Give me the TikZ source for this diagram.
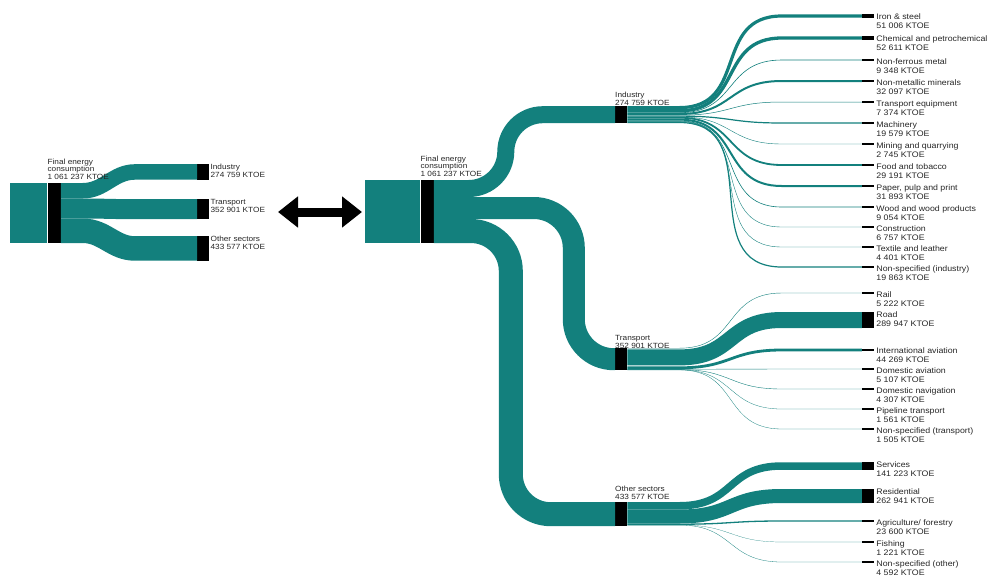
\documentclass[tikz,border=0pt]{standalone}
\usepackage{fontspec}
\setmainfont{Liberation Sans}[FakeStretch=1.1]
\usepackage{tikz}
\usetikzlibrary{arrows.meta,positioning}
\definecolor{flowteal}{RGB}{19,128,125}
\tikzset{
	% Bars at the ends of the flows, and the flows themselves
	bar node/.style={rectangle,fill=black,inner sep=0pt,minimum width=12pt},
	teal node/.style={rectangle,fill=flowteal,inner sep=0pt},
	band/.style={draw=flowteal,line cap=butt},
	tag/.style={font=\fontsize{8}{9}\selectfont,align=left,inner sep=0pt,text=black!85},
	small tag/.style={font=\fontsize{7.5}{7.8}\selectfont,align=left,inner sep=0pt,text=black!85}
}

\begin{document}
\begin{tikzpicture}[x=1pt,y=-1pt]
			% macro for the label of a sector
			\newcommand{\sectorlabel}[3][south west]{\node[small tag,anchor=#1]at(#2){#3};}
			\useasboundingbox (0,0) rectangle (988,579);
			
			% Left: total consumption split into three sectors
			\node(L-src)[teal node,minimum width=37pt,minimum height=60pt,anchor=north west] at (10,183){};
			\node(L-0)[bar node,minimum width=13pt,minimum height=60pt,right=0pt of L-src]{};
			\node(L-1)[bar node,minimum height=15.5pt,anchor=north west] at (197,164){};
			\node(L-2)[bar node,minimum height=20pt,anchor=north west] at (197,199){};
			\node(L-3)[bar node,minimum height=24.5pt,anchor=north west] at (197,236){};
			\draw[band,line width=15.5pt] ([yshift=-7.75pt]L-0.north east) -- ++(22,0) to[out=0,in=180] ([xshift=-62pt]L-1.west) -- (L-1.west);
			\draw[band,line width=20pt] ([yshift=-25.5pt]L-0.north east) -- ++(22,0) to[out=0,in=180] ([xshift=-62pt]L-2.west) -- (L-2.west);
			\draw[band,line width=24.5pt] ([yshift=-47.75pt]L-0.north east) -- ++(22,0) to[out=0,in=180] ([xshift=-62pt]L-3.west) -- (L-3.west);
			
			\sectorlabel{[yshift=3pt]L-0.north west}{Final energy\\consumption\\1 061 237 KTOE}
			\sectorlabel[north west]{[xshift=1pt]L-1.north east}{Industry\\274 759 KTOE}
			\sectorlabel[north west]{[xshift=1pt]L-2.north east}{Transport\\352 901 KTOE}
			\sectorlabel[north west]{[xshift=1pt]L-3.north east}{Other sectors\\433 577 KTOE}
			
			% double arrow between the two pictures
			\coordinate(swap-L) at (278,212);
			\coordinate(swap-R) at (362,212);
			\draw[line width=9pt,{Triangle[length=20pt,width=30pt]}-{Triangle[length=20pt,width=30pt]}] (swap-L) -- (swap-R);
			
			% Middle: the same total, split again
			\node(0-src)[teal node,minimum width=55pt,minimum height=63pt,anchor=north west] at (365,180){};
			\node(0)[bar node,minimum width=13pt,minimum height=63pt,right=0pt of 0-src]{};
			\node(1)[bar node,minimum height=17pt,anchor=north west] at (615,106){};
			\node(2)[bar node,minimum height=22pt,anchor=north west] at (615,348){};
			\node(3)[bar node,minimum height=24pt,anchor=north west] at (615,502){};
			\draw[band,line width=17pt,rounded corners=37pt] ([yshift=-8.5pt]0.north east) -- ++(72,0) |- (1.west);
			\draw[band,line width=22pt,rounded corners=40pt] ([yshift=-28pt]0.north east) -- ++(140,0) |- (2.west);
			\draw[band,line width=24pt,rounded corners=40pt] ([yshift=-51pt]0.north east) -- ++(77,0) |- (3.west);
			
			\sectorlabel{[yshift=3pt]0.north west}{Final energy\\consumption\\1 061 237 KTOE}
			\sectorlabel{1.north west}{Industry\\274 759 KTOE}
			\sectorlabel{[yshift=-1pt]2.north west}{Transport\\352 901 KTOE}
			\sectorlabel{[yshift=2pt]3.north west}{Other sectors\\433 577 KTOE}
			
			% Right: industry
			\foreach \n/\yt/\w/\ys/\name/\val in {
				1/16/3.2/1.6/Iron \& steel/51 006,
				2/38/3.3/4.8/Chemical and petrochemical/52 611,
				3/60/0.6/6.7/Non-ferrous metal/9 348,
				4/81/2.0/8.0/Non-metallic minerals/32 097,
				5/102/0.5/9.2/Transport equipment/7 374,
				6/123/1.2/10.1/Machinery/19 579,
				7/144/0.4/10.8/Mining and quarrying/2 745,
				8/165/1.8/11.7/Food and tobacco/29 191,
				9/186/2.0/13.6/{Paper, pulp and print}/31 893,
				10/207/0.6/14.9/Wood and wood products/9 054,
				11/227/0.4/15.4/Construction/6 757,
				12/247/0.4/15.7/Textile and leather/4 401,
				13/267/1.2/16.5/Non-specified (industry)/19 863}{
				\pgfmathsetmacro{\barh}{max(\w,1.5)}
				\node(1-\n)[bar node,minimum height=\barh pt] at (868,\yt){};
				\draw[band,line width=\w pt] ([yshift=-\ys pt]1.north east) -- ++(52,0) to[out=0,in=180,looseness=1.3] ([xshift=-80pt]1-\n.west) -- (1-\n.west);
				\node[tag,anchor=north west] at ([xshift=2pt,yshift=0.5pt]1-\n.north east){\name\\\val{} KTOE};
			}
			
			% Right: transport
			\foreach \n/\yt/\w/\ys/\name/\val in {
				1/293/0.4/0.2/Rail/5 222,
				2/320/16/9.4/Road/289 947,
				3/350/2.8/19.8/International aviation/44 269,
				4/369/0.4/21.3/Domestic aviation/5 107,
				5/389/0.4/21.6/Domestic navigation/4 307,
				6/409/0.3/21.8/Pipeline transport/1 561,
				7/429/0.3/21.9/Non-specified (transport)/1 505}{
				\pgfmathsetmacro{\barh}{max(\w,1.5)}
				\node(2-\n)[bar node,minimum height=\barh pt] at (868,\yt){};
				\draw[band,line width=\w pt] ([yshift=-\ys pt]2.north east) -- ++(52,0) to[out=0,in=180,looseness=1.3] ([xshift=-80pt]2-\n.west) -- (2-\n.west);
				\node[tag,anchor=north west] at ([xshift=2pt,yshift=0.5pt]2-\n.north east){\name\\\val{} KTOE};
			}
			
			% Right: other sectors
			\foreach \n/\yt/\w/\ys/\name/\val in {
				1/466/7.5/3.75/Services/141 223,
				2/496/14.0/14.5/Residential/262 941,
				3/521/1.3/22.2/{Agriculture/ forestry}/23 600,
				4/542/0.2/22.9/Fishing/1 221,
				5/562/0.3/23.1/Non-specified (other)/4 592}{
				\pgfmathsetmacro{\barh}{max(\w,1.5)}
				\node(3-\n)[bar node,minimum height=\barh pt] at (868,\yt){};
				\draw[band,line width=\w pt] ([yshift=-\ys pt]3.north east) -- ++(52,0) to[out=0,in=180,looseness=1.3] ([xshift=-80pt]3-\n.west) -- (3-\n.west);
				\node[tag,anchor=north west] at ([xshift=2pt,yshift=0.5pt]3-\n.north east){\name\\\val{} KTOE};
			}
		\end{tikzpicture}
\end{document}
